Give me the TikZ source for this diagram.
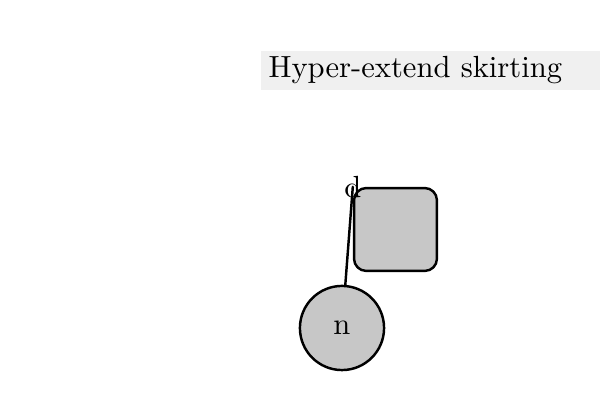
\documentclass[tikz,border=0pt]{standalone}
\usetikzlibrary{positioning}
\begin{document}
\begin{tikzpicture}[line join = round, line cap = round,x=0.3268pt,y=-0.3268pt]
	%title bar, square, circle
	\tikzset{titlebox/.style={fill=black!6,inner xsep=2.6pt,inner ysep=0pt,text width=105.9pt,minimum height=12.75pt,align=left},
		sqbox/.style={draw,thick,fill=black!22,rounded corners=4pt,minimum size=27.1pt,inner sep=0pt},
		circbox/.style={draw,thick,fill=black!22,circle,minimum size=27.5pt,inner sep=0pt}}
	\useasboundingbox (0,0) rectangle (600,400);
	\node[titlebox,anchor=north west] (title) at (260,50) {Hyper-extend skirting};
	\node[sqbox] (sq) at (395.5,229.5) {};
	\coordinate (d) at (sq.north west);
	\node[inner sep=0pt] (dtxt) at (d) {d};
	\node[circbox] (n) at (342,328) {n};
	\draw[thick] (d)--(n);
\end{tikzpicture}
\end{document}
